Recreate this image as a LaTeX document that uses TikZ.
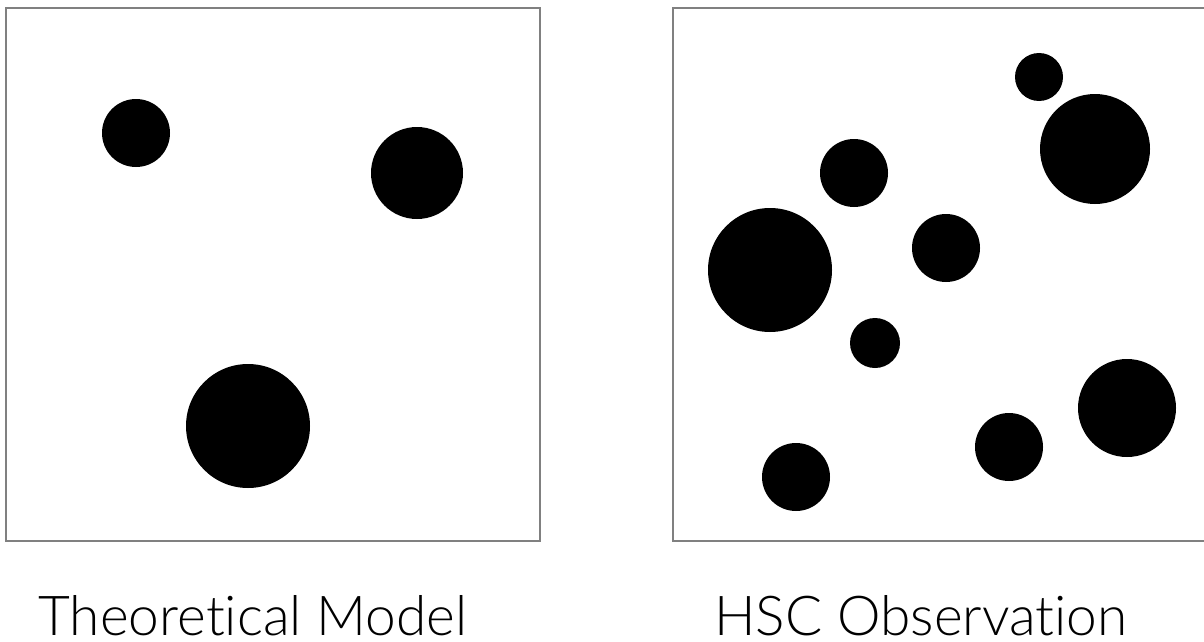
\documentclass[tikz,border=0pt]{standalone}
\usepackage{fontspec}
\setmainfont[Ligatures=NoCommon]{Lato Light}
\begin{document}
\begin{tikzpicture}[x=1pt,y=-1pt,
  frame/.style={draw=black!50,line width=1.2pt},
  dot/.style={fill=black},
  caption/.style={anchor=base,font=\fontsize{55}{60}\selectfont,inner sep=0pt,text depth=0pt}]
\useasboundingbox (0,0) rectangle (1204,642);
% panels
\draw[frame] (6,8) rectangle (540,541);
\draw[frame] (673,8) rectangle (1210,541);
% left panel
\fill[dot] (136,133) circle (34);
\fill[dot] (417,173) circle (46);
\fill[dot] (248,426) circle (62);
% right panel
\fill[dot] (1039,77) circle (24);
\fill[dot] (1095,149) circle (55);
\fill[dot] (854,173) circle (34);
\fill[dot] (946,248) circle (34);
\fill[dot] (770,270) circle (62);
\fill[dot] (875,343) circle (25);
\fill[dot] (1127,408) circle (49);
\fill[dot] (1009,447) circle (34);
\fill[dot] (796,477) circle (34);
% captions
\node[caption] (capL) at (253,635) {Theoretical Model};
\node[caption] (capR) at (921,635) {HSC Observation};
\end{tikzpicture}
\end{document}
